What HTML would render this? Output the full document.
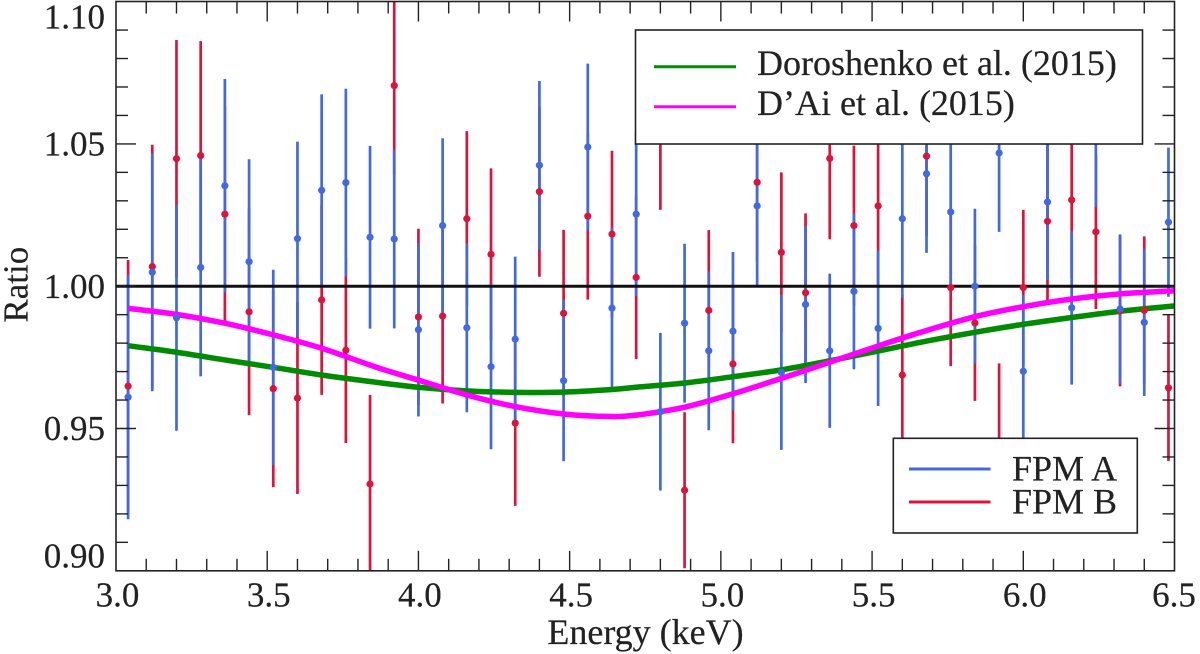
<!DOCTYPE html>
<html lang="en">
<head>
<meta charset="utf-8">
<title>Ratio vs Energy</title>
<style>
html,body{margin:0;padding:0;background:#fff;}
svg{display:block;}
text{font-family:"Liberation Serif",serif;fill:#222;stroke:#222;stroke-width:.2;}
</style>
</head>
<body>
<svg id="chart" width="1200" height="654" viewBox="0 0 1200 654" xmlns="http://www.w3.org/2000/svg">
  <defs><clipPath id="plot-clip"><rect x="116" y="1.5" width="1058.5" height="569.3"/></clipPath></defs>
  <g id="bars-red" clip-path="url(#plot-clip)"></g>
  <g id="bars-blue" clip-path="url(#plot-clip)"></g>
  <g id="unity" clip-path="url(#plot-clip)"></g>
  <g id="curves" clip-path="url(#plot-clip)"></g>
  <g id="points-red" clip-path="url(#plot-clip)"></g>
  <g id="points-blue" clip-path="url(#plot-clip)"></g>
  <g id="ticks"></g>
  <rect x="116" y="1.5" width="1058.5" height="569.3" fill="none" stroke="#222" stroke-width="1.6"/>
  <g id="labels"></g>
  <text x="645.5" y="644" font-size="36" text-anchor="middle">Energy (keV)</text>
  <text transform="translate(27.5,284.7) rotate(-90)" font-size="35" text-anchor="middle">Ratio</text>

  <g>
    <rect x="635.5" y="30" width="507" height="114" fill="#fff" stroke="#222" stroke-width="1.6"/>
    <line x1="654" x2="736" y1="66.7" y2="66.7" stroke="#008b00" stroke-width="3"/>
    <text x="757" y="75" font-size="36">Doroshenko et al. (2015)</text>
    <line x1="654" x2="736" y1="106.7" y2="106.7" stroke="#ff00ff" stroke-width="3"/>
    <text x="757" y="115" font-size="36">D’Ai et al. (2015)</text>
  </g>
  <g>
    <rect x="893.3" y="438.3" width="244" height="94.7" fill="#fff" stroke="#222" stroke-width="1.6"/>
    <line x1="909" x2="990.5" y1="469" y2="469" stroke="#4169e1" stroke-width="3"/>
    <text x="1012" y="480.7" font-size="36">FPM A</text>
    <line x1="909" x2="990.5" y1="502" y2="502" stroke="#dc143c" stroke-width="3"/>
    <text x="1012" y="513.3" font-size="36">FPM B</text>
  </g>
</svg>
<script>
const energies = [3.04,3.12,3.20,3.28,3.36,3.44,3.52,3.60,3.68,3.76,3.84,3.92,4.00,4.08,4.16,4.24,4.32,4.40,4.48,4.56,4.64,4.72,4.80,4.88,4.96,5.04,5.12,5.20,5.28,5.36,5.44,5.52,5.60,5.68,5.76,5.84,5.92,6.00,6.08,6.16,6.24,6.32,6.40,6.48];
const fpmA = [.9610,1.0049,.9889,1.0066,1.0353,1.0086,.9715,1.0167,1.0337,1.0364,1.0172,1.0166,.9847,1.0213,.9854,.9717,.9814,1.0425,.9668,1.0489,.9923,1.0253,.9559,.9870,.9773,.9842,1.0282,.9697,.9936,.9773,.9982,.9852,1.0237,1.0395,1.0261,1.0000,1.0468,.9701,1.0296,.9924,1.0552,.9920,.9873,1.0225];
const fpmAErr = [.0429,.0418,.0397,.0383,.0375,.0360,.0343,.0341,.0337,.0330,.0321,.0314,.0305,.0307,.0297,.0290,.0290,.0296,.0283,.0293,.0282,.0287,.0277,.0279,.0279,.0278,.0280,.0272,.0276,.0271,.0274,.0273,.0278,.0278,.0271,.0272,.0277,.0268,.0274,.0270,.0274,.0262,.0259,.0262];
const fpmB = [.9649,1.0069,1.0448,1.0459,1.0253,.9910,.9640,.9607,.9952,.9775,.9305,1.0705,.9892,.9895,1.0237,1.0112,.9519,1.0332,.9905,1.0246,1.0183,1.0031,1.0549,.9283,.9915,.9727,1.0365,1.0119,.9977,1.0449,1.0213,1.0282,.9688,1.0457,.9995,.9871,.9449,.9995,1.0228,1.0303,1.0191,.9913,.9915,.9643];
const fpmBErr = [.0443,.0428,.0417,.0402,.0381,.0363,.0346,.0337,.0334,.0326,.0313,.0316,.0310,.0307,.0308,.0302,.0291,.0299,.0293,.0293,.0293,.0287,.0281,.0274,.0282,.0279,.0281,.0281,.0279,.0284,.0281,.0281,.0281,.0281,.0276,.0274,.0280,.0273,.0277,.0274,.0271,.0265,.0260,.0257];
const curveEnergies = [3.04,3.20,3.36,3.52,3.68,3.87,4.00,4.16,4.32,4.48,4.64,4.72,4.88,5.04,5.20,5.36,5.52,5.66,5.84,6.00,6.16,6.32,6.50];
const doroshenko = [.9791,.9768,.9741,.9715,.9688,.9661,.9645,.9632,.9627,.9628,.9637,.9645,.9660,.9682,.9706,.9738,.9772,.9803,.9838,.9866,.9890,.9912,.9931];
const dai = [.9922,.9901,.9870,.9829,.9782,.9712,.9670,.9618,.9577,.9551,.9542,.9547,.9575,.9622,.9676,.9733,.9790,.9838,.9893,.9928,.9955,.9973,.9984];
const xTickLabels = ["3.0","3.5","4.0","4.5","5.0","5.5","6.0","6.5"];
const yTickLabels = ["0.90","0.95","1.00","1.05","1.10"];

const NS = "http://www.w3.org/2000/svg";
const xScale = e => 116 + (e - 3) * 302.43;
const yScale = v => 286.2 - (v - 1) * 2846;
function make(tag, parent, attrs) {
  const el = document.createElementNS(NS, tag);
  for (const k in attrs) el.setAttribute(k, attrs[k]);
  document.getElementById(parent).appendChild(el);
  return el;
}
function drawBars(parent, vals, errs, color, name) {
  energies.forEach((e, i) => {
    const el = make("line", parent, {x1: xScale(e), x2: xScale(e), y1: yScale(vals[i] + errs[i]), y2: yScale(vals[i] - errs[i]), stroke: color, "stroke-width": 2.7});
    
    
  });
}
function drawPoints(parent, vals, color, name) {
  energies.forEach((e, i) => {
    const el = make("circle", parent, {cx: xScale(e), cy: yScale(vals[i]), r: 3.6, fill: color});
    
    
  });
}
function smoothPath(xs, ys) {
  const p = xs.map((x, i) => [xScale(x), yScale(ys[i])]);
  let d = "M" + p[0][0].toFixed(2) + " " + p[0][1].toFixed(2);
  for (let i = 0; i < p.length - 1; i++) {
    const a = p[Math.max(i - 1, 0)], b = p[i], c = p[i + 1], f = p[Math.min(i + 2, p.length - 1)];
    const h = c[0] - b[0];
    const s1 = (c[1] - a[1]) / (c[0] - a[0]), s2 = (f[1] - b[1]) / (f[0] - b[0]);
    d += " C" + (b[0] + h / 3).toFixed(2) + " " + (b[1] + s1 * h / 3).toFixed(2) + " " + (c[0] - h / 3).toFixed(2) + " " + (c[1] - s2 * h / 3).toFixed(2) + " " + c[0].toFixed(2) + " " + c[1].toFixed(2);
  }
  return d;
}

drawBars("bars-red", fpmB, fpmBErr, "#dc143c", "fpm-b-error-bar");
drawBars("bars-blue", fpmA, fpmAErr, "#4169e1", "fpm-a-error-bar");

const unity = make("line", "unity", {x1: xScale(3), x2: xScale(6.5), y1: yScale(1), y2: yScale(1), stroke: "#111", "stroke-width": 3});



const greenCurve = make("path", "curves", {d: smoothPath(curveEnergies, doroshenko), fill: "none", stroke: "#008b00", "stroke-width": 5.5});


const magentaCurve = make("path", "curves", {d: smoothPath(curveEnergies, dai), fill: "none", stroke: "#ff00ff", "stroke-width": 5.5});



drawPoints("points-red", fpmB, "#dc143c", "fpm-b-point");
drawPoints("points-blue", fpmA, "#4169e1", "fpm-a-point");

const tickColor = "#222";
for (let k = 0; k <= 35; k++) {
  const x = xScale(3 + k * 0.1);
  const len = k % 5 === 0 ? 20 : 12;
  if (k === 0 || k === 35) continue;
  const top = make("line", "ticks", {x1: x, x2: x, y1: 1.5, y2: 1.5 + len, stroke: tickColor, "stroke-width": 1.4});
  
  
  const bottom = make("line", "ticks", {x1: x, x2: x, y1: 570.8, y2: 570.8 - len, stroke: tickColor, "stroke-width": 1.4});
  
  
}
for (let k = 1; k < 20; k++) {
  const y = yScale(0.90 + k * 0.01);
  const len = k % 5 === 0 ? 20 : 12;
  const left = make("line", "ticks", {x1: 116, x2: 116 + len, y1: y, y2: y, stroke: tickColor, "stroke-width": 1.4});
  
  
  const right = make("line", "ticks", {x1: 1174.5, x2: 1174.5 - len, y1: y, y2: y, stroke: tickColor, "stroke-width": 1.4});
  
  
}
xTickLabels.forEach(t => {
  const el = make("text", "labels", {x: Math.min(xScale(parseFloat(t)) + 1.5, 1174), y: 606.7, "font-size": 35, "text-anchor": "middle"});
  el.textContent = t;
  
  
});
yTickLabels.forEach(t => {
  const base = Math.max(28.3, Math.min(567.7, yScale(parseFloat(t)) + 11.7));
  const el = make("text", "labels", {x: 105, y: base, "font-size": 35, "text-anchor": "end"});
  el.textContent = t;
  
  
});
</script>
</body>
</html>
